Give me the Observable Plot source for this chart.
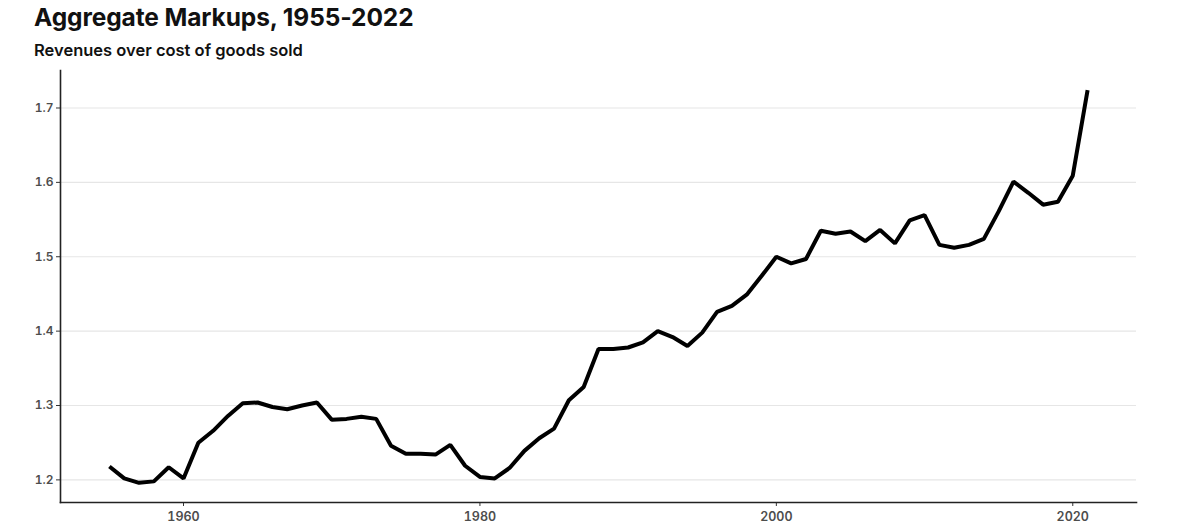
<!DOCTYPE html>
<html>
<head>
<meta charset="utf-8">
<script src="https://cdn.jsdelivr.net/npm/d3@7"></script>
<script src="https://cdn.jsdelivr.net/npm/@observablehq/plot@0.6"></script>
<style>
  body { margin: 0; background: #fff; font-family: Inter, "Noto Sans", sans-serif; }
  #wrap { position: relative; width: 1200px; height: 529px; }
  #title { position: absolute; left: 34px; top: 2px; font-size: 24.5px; font-weight: 700; line-height: 30px; color: #111; letter-spacing: -0.1px; }
  #subtitle { position: absolute; left: 34px; top: 40px; font-size: 16.5px; font-weight: 600; line-height: 20px; color: #111; }
  #chart { position: absolute; left: 0; top: 62px; }
</style>
</head>
<body>
<div id="wrap">
  <div id="title">Aggregate Markups, 1955-2022</div>
  <div id="subtitle">Revenues over cost of goods sold</div>
  <div id="chart"></div>
</div>
<script>
const years = d3.range(1955, 2022);
const markups = [
  1.218, 1.202, 1.196, 1.198, 1.217, 1.202, 1.250, 1.266, 1.286, 1.303,
  1.304, 1.298, 1.295, 1.300, 1.304, 1.281, 1.282, 1.285, 1.282, 1.246,
  1.235, 1.235, 1.234, 1.247, 1.219, 1.204, 1.202, 1.216, 1.239, 1.256,
  1.269, 1.307, 1.325, 1.376, 1.376, 1.378, 1.385, 1.400, 1.392, 1.380,
  1.398, 1.426, 1.434, 1.449, 1.474, 1.500, 1.491, 1.497, 1.535, 1.531,
  1.534, 1.521, 1.536, 1.518, 1.549, 1.556, 1.516, 1.512, 1.516, 1.524,
  1.561, 1.601, 1.586, 1.570, 1.574, 1.609, 1.724
];
const xTicks = [1960, 1980, 2000, 2020];
const yTicks = [1.2, 1.3, 1.4, 1.5, 1.6, 1.7];

const data = years.map((y, i) => ({year: y, value: markups[i]}));

const xMin = 1955, xMax = 2021;
const xPad = (xMax - xMin) * 0.05;
const yMin = d3.min(markups), yMax = d3.max(markups);
const yPad = (yMax - yMin) * 0.05;

const chart = Plot.plot({
  width: 1200,
  height: 467,
  marginLeft: 60,
  marginRight: 64,
  marginTop: 8,
  marginBottom: 27,
  x: {domain: [xMin - xPad, xMax + xPad]},
  y: {domain: [yMin - yPad, yMax + yPad]},
  style: {fontFamily: "Inter, 'Noto Sans', sans-serif", background: "#fff"},
  marks: [
    Plot.ruleY(yTicks, {stroke: "#e6e6e6", strokeWidth: 1.2}),
    Plot.axisY({ticks: yTicks, tickFormat: d3.format(".1f"), tickSize: 4, tickPadding: 3, stroke: "#333", fill: "#4d4d4d", fontSize: 12, fontWeight: 600, label: null}),
    Plot.axisX({ticks: xTicks, tickFormat: d => String(d), tickSize: 4, tickPadding: 6, stroke: "#333", fill: "#4d4d4d", fontSize: 12.5, fontWeight: 600, label: null}),
    Plot.frame({anchor: "left", stroke: "#222", strokeWidth: 1.6}),
    Plot.frame({anchor: "bottom", stroke: "#222", strokeWidth: 1.6}),
    Plot.line(data, {x: "year", y: "value", stroke: "#000", strokeWidth: 4, strokeLinejoin: "miter", strokeLinecap: "butt"})
  ]
});
document.getElementById("chart").appendChild(chart);
</script>
</body>
</html>
